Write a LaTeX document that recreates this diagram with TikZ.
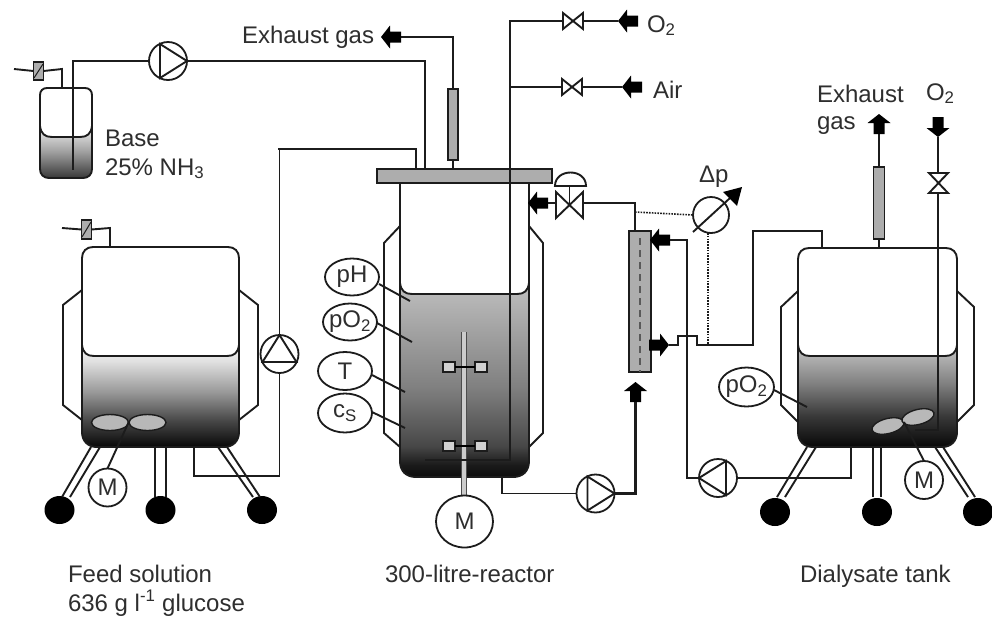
\documentclass[tikz,border=0pt]{standalone}
\usepackage{fontspec}
\setmainfont{Liberation Sans}
\usetikzlibrary{shapes.geometric}
\pgfdeclareverticalshading{basefill}{100bp}{color(0bp)=(black!78); color(25bp)=(black!78); color(50bp)=(black!38); color(75bp)=(black!5); color(100bp)=(black!5)}
\pgfdeclareverticalshading{feedfill}{100bp}{color(0bp)=(black!97); color(25bp)=(black!97); color(38bp)=(black!72); color(52bp)=(black!40); color(67bp)=(black!12); color(75bp)=(black!3); color(100bp)=(black!3)}
\pgfdeclareverticalshading{reactfill}{100bp}{color(0bp)=(black!95); color(25bp)=(black!95); color(28bp)=(black!90); color(33bp)=(black!72); color(48bp)=(black!50); color(75bp)=(black!25); color(100bp)=(black!25)}
\pgfdeclareverticalshading{dialfill}{100bp}{color(0bp)=(black!97); color(25bp)=(black!97); color(40bp)=(black!78); color(56bp)=(black!50); color(75bp)=(black!22); color(100bp)=(black!22)}
\definecolor{ink}{HTML}{1c1c1c}
\definecolor{txt}{HTML}{2e2e2e}
\tikzset{
 pipe/.style={draw=ink,line width=1.9pt,line join=miter},
 pumpc/.style={circle,draw=ink,line width=1.8pt,fill=white,minimum size=38pt,inner sep=0pt,outer sep=0pt},
 motor/.style={circle,draw=ink,line width=1.8pt,fill=white,minimum size=38pt,inner sep=0pt,outer sep=0pt},
 sensor/.style={ellipse,draw=ink,line width=1.8pt,fill=white,minimum width=54pt,minimum height=37pt,inner sep=0pt,outer sep=0pt},
 filter/.style={rectangle,draw=ink,line width=1.9pt,fill=black!32,inner sep=0pt,outer sep=0pt},
 blob/.style={ellipse,fill=black,minimum width=30pt,minimum height=28pt,inner sep=0pt,outer sep=0pt},
 paddle/.style={ellipse,draw=ink,line width=1.4pt,fill=black!28,inner sep=0pt,outer sep=0pt},
 blade/.style={rectangle,draw=ink,line width=1.9pt,fill=black!18,minimum width=12pt,minimum height=10pt,inner sep=0pt,outer sep=0pt},
 dotline/.style={draw=ink,line width=1.6pt,dash pattern=on 1.6pt off 1.2pt},
 lab/.style={text=txt,font=\fontsize{24}{28}\selectfont,inner sep=0pt,outer sep=0pt,anchor=base west},
 clab/.style={text=txt,font=\fontsize{24}{28}\selectfont,inner sep=0pt,outer sep=0pt},
}
\newcommand{\flowarrow}[3]{\fill[black,shift={(#1,#2)},rotate=#3] (0,0)--(9,11.5)--(9,5.5)--(20,5.5)--(20,-5.5)--(9,-5.5)--(9,-11.5)--cycle;}
\newcommand{\pumptri}[3]{\draw[pipe,shift={(#1,#2)},rotate=#3] (19,0)--(-8,17)--(-8,-17)--cycle;}
\newcommand{\valvetie}[3]{\draw[pipe,fill=white,shift={(#1,#2)},rotate=#3] (-10,-8)--(10,8)--(10,-8)--(-10,8)--cycle;}
% x1 x2 liquid-level bottom corner shading
\newcommand{\liquidbody}[6]{%
 \shade[shading=#6] ({#1},{#3-11}) .. controls ({#1+1},{#3-3}) and ({#1+5},{#3}) .. ({#1+12},{#3}) -- ({#2-12},{#3}) .. controls ({#2-5},{#3}) and ({#2-1},{#3-3}) .. ({#2},{#3-11}) -- ({#2},{#4-#5}) .. controls ({#2},{#4-#5*0.4}) and ({#2-#5*0.4},{#4}) .. ({#2-#5},{#4}) -- ({#1+#5},{#4}) .. controls ({#1+#5*0.4},{#4}) and ({#1},{#4-#5*0.4}) .. ({#1},{#4-#5}) -- cycle;
 \draw[pipe] ({#1},{#3-11}) .. controls ({#1+1},{#3-3}) and ({#1+5},{#3}) .. ({#1+12},{#3}) -- ({#2-12},{#3}) .. controls ({#2-5},{#3}) and ({#2-1},{#3-3}) .. ({#2},{#3-11});
}
% full vessel: x1 x2 top level bottom topcorner botcorner shading
\newcommand{\vessel}[8]{%
 \liquidbody{#1}{#2}{#4}{#5}{#7}{#8}
 \draw[pipe] ({#1},{#5-#7}) -- ({#1},{#3+#6}) .. controls ({#1},{#3+#6*0.4}) and ({#1+#6*0.4},{#3}) .. ({#1+#6},{#3}) -- ({#2-#6},{#3}) .. controls ({#2-#6*0.4},{#3}) and ({#2},{#3+#6*0.4}) .. ({#2},{#3+#6}) -- ({#2},{#5-#7}) .. controls ({#2},{#5-#7*0.4}) and ({#2-#7*0.4},{#5}) .. ({#2-#7},{#5}) -- ({#1+#7},{#5}) .. controls ({#1+#7*0.4},{#5}) and ({#1},{#5-#7*0.4}) .. ({#1},{#5-#7});
}
\begin{document}
\begin{tikzpicture}[x=1pt,y=-1pt]
\useasboundingbox[fill=white] (0,0) rectangle (992,619);

% ---------- Base tank
\vessel{40}{92}{88}{137}{178}{7}{9}{basefill}
\coordinate (bdip) at (73,170);
\coordinate (bvent) at (62,88);
\coordinate (bin) at (14,69);
\node[filter,minimum width=10pt,minimum height=18pt] (bf) at (38.5,71) {};
\draw[pipe,line width=1pt] (34,78)--(43,64);
\draw[pipe] (bin) -- (bf.west);
\draw[pipe] (bf.east) -- (62,69) -- (bvent);
\node[pumpc] (pb) at (168,61) {};
\pumptri{168}{61}{0}
\draw[pipe,line width=2.1pt] (bdip) |- (pb.west);
\node[lab] (tbase) at (105,146) {Base};
\node[lab] (tnh) at (105,175) {25\% NH\textsubscript{3}};

% ---------- Feed tank
\node[blob] (fb1) at (59.5,510) {};
\node[blob] (fb2) at (160.5,510) {};
\node[blob] (fb3) at (262,510) {};
\draw[pipe] (91,447)--(62,497) (100,447)--(70,497);
\draw[pipe] (155,447)--(155,497) (166,447)--(166,497);
\draw[pipe] (218,447)--(253,497) (227,447)--(260,497);
\draw[pipe] (82,290)--(63,305)--(63,405)--(82,420);
\draw[pipe] (239,290)--(258,305)--(258,405)--(239,420);
\vessel{82}{239}{247}{356}{447}{11}{15}{feedfill}
\node[filter,minimum width=10pt,minimum height=19pt] (ff) at (86.5,229.5) {};
\draw[pipe,line width=1pt] (82,237)--(91,222);
\coordinate (fin) at (62,228);
\coordinate (fvent) at (110,247);
\draw[pipe] (fin) -- (ff.west);
\draw[pipe] (ff.east) -- (110,228) -- (fvent);
\node[paddle,minimum width=37pt,minimum height=16pt] (fp1) at (110,422.5) {};
\node[paddle,minimum width=37pt,minimum height=16pt] (fp2) at (147.5,422.5) {};
\node[motor] (fm) at (107.5,487.5) {};
\node[clab] at (fm) {M};
\draw[pipe] (fp1.east) -- (fm.north);
\node[pumpc] (pf) at (279.5,354) {};
\pumptri{279.5}{354}{90}
\coordinate (fout) at (194,447);
\coordinate (lidb) at (416,169);
\draw[pipe] (fout) |- (279.5,476) -- (pf.south);
\draw[pipe] (pf.north) |- (278,149) -- (416,149) -- (lidb);
\node[lab] (tf1) at (68,582) {Feed solution};
\node[lab] (tf2) at (68,611) {636 g l\textsuperscript{-1} glucose};

% ---------- Reactor
\draw[pipe] (400,226)--(384,243)--(384,433)--(400,447);
\draw[pipe] (529,226)--(543,243)--(543,433)--(529,447);
\liquidbody{400}{529}{294}{477}{16}{reactfill}
\draw[pipe] (400,183) -- (400,461) .. controls (400,471) and (406,477) .. (416,477) -- (513,477) .. controls (523,477) and (529,471) .. (529,461) -- (529,183);
\draw[draw=black!70,line width=5.6pt] (464,332)--(464,496);
\draw[draw=black!20,line width=3.2pt] (464,332)--(464,496);
\node[blade] (b1) at (449,367) {};
\node[blade] (b2) at (481,367) {};
\node[blade] (b3) at (449,446) {};
\node[blade] (b4) at (481,446) {};
\draw[pipe,line width=2.4pt,draw=black] (b1)--(b2);
\draw[pipe,line width=2.4pt,draw=black] (b3)--(b4);
\node[ellipse,draw=ink,line width=1.8pt,fill=white,minimum width=57pt,minimum height=52pt,inner sep=0pt] (rm) at (464.5,521.5) {};
\node[clab] at (rm) {M};
\node[rectangle,draw=ink,line width=1.9pt,fill=black!32,minimum width=175pt,minimum height=14pt,inner sep=0pt] (lid) at (464.5,176) {};

% sensors
\node[sensor] (sph) at (352,277) {};
\node[sensor] (spo) at (350,322) {};
\node[sensor,minimum height=38pt] (st) at (345,371) {};
\node[sensor,minimum height=39pt] (scs) at (345,413) {};
\node[clab] at (sph) {pH};
\node[clab] at (spo) {pO\textsubscript{2}};
\node[clab] at (st) {T};
\node[clab] at (scs) {c\textsubscript{S}};
\coordinate (ph2) at (410,301);
\coordinate (po2) at (412,342);
\coordinate (t2) at (405,392);
\coordinate (cs2) at (405,428);
\draw[pipe] (sph.east) ++(0,7) -- (ph2);
\draw[pipe] (spo.east) ++(0,1) -- (po2);
\draw[pipe] (st.east) ++(0,4) -- (t2);
\draw[pipe] (scs.east) ++(0,-1) -- (cs2);

% base line to lid, exhaust
\coordinate (lida) at (425,169);
\draw[pipe] (pb.east) -| (lida);
\node[filter,minimum width=10pt,minimum height=71pt] (f1) at (453,124.5) {};
\coordinate (eg1) at (401,37);
\draw[pipe] (f1.south) -- (453,169);
\draw[pipe] (eg1) -| (f1.north);
\flowarrow{381}{37}{0}
\node[lab] (teg) at (242,43) {Exhaust gas};

% gas feed
\coordinate (ga) at (510,21);
\coordinate (gb) at (510,87);
\coordinate (gend) at (425,460);
\draw[pipe,line width=2.2pt] (gend) -- (510,460) -- (ga) -- (563,21);
\draw[pipe] (gb) -- (562,87);
\valvetie{573}{21}{0}
\valvetie{572}{87}{0}
\coordinate (o2a) at (618,21);
\coordinate (aira) at (622,87);
\draw[pipe] (583,21) -- (o2a);
\draw[pipe] (582,87) -- (aira);
\flowarrow{618}{21}{0}
\flowarrow{622}{87}{0}
\node[lab] (to2) at (647,32) {O\textsubscript{2}};
\node[lab] (tair) at (653,98) {Air};

% pressure control valve
\flowarrow{528}{203}{0}
\draw[pipe] (548,203)--(556,203);
\draw[pipe,fill=white] (556,192)--(583,218)--(583,192)--(556,218)--cycle;
\draw[pipe] (569.5,205)--(569.5,186);
\draw[pipe,fill=white] (555,186) .. controls (555,168) and (586,168) .. (586,186) -- cycle;

% dialysis module
\node[filter,minimum width=22pt,minimum height=141pt] (mod) at (640,301.5) {};
\draw[draw=black!65,line width=1.2pt,dash pattern=on 7pt off 5pt] (640,238)--(640,372);
\draw[pipe] (583,203) -| (635,231);
\flowarrow{635.5}{382}{-90}
\node[pumpc] (pr) at (595.5,493.5) {};
\pumptri{595.5}{493.5}{0}
\coordinate (rout) at (502,477);
\draw[pipe] (rout) |- (pr.west);
\draw[pipe,line width=2.2pt] (pr.east) -| (635.5,402);

% dialysate side
\draw[pipe] (807,447)--(777,497) (816,447)--(785,497);
\draw[pipe] (873,447)--(873,497) (881,447)--(881,497);
\draw[pipe] (935,447)--(968,497) (943,447)--(975,497);
\node[blob] (db1) at (775,512) {};
\node[blob] (db2) at (877,512) {};
\node[blob] (db3) at (978,512) {};
\draw[pipe] (798,291)--(781,307)--(781,405)--(798,422);
\draw[pipe] (957,291)--(974,307)--(974,405)--(957,422);
\vessel{798}{957}{248}{356}{447}{11}{15}{dialfill}
\node[paddle,minimum width=33pt,minimum height=15pt,rotate=14] (dp1) at (888,426) {};
\node[paddle,minimum width=33pt,minimum height=15pt,rotate=14] (dp2) at (918,417) {};
\node[motor] (dm) at (924,480) {};
\node[clab] at (dm) {M};
\coordinate (dphub) at (904,422);
\draw[pipe] (dphub) -- (dm.north);
\node[sensor,minimum height=39pt,minimum width=55pt] (dpo) at (746.5,387) {};
\node[clab] at (dpo) {pO\textsubscript{2}};
\coordinate (dpo2) at (807,407);
\draw[pipe] (dpo.east) ++(0,3) -- (dpo2);

% dialysate loop
\node[pumpc] (pd) at (718,478) {};
\pumptri{718}{478}{180}
\coordinate (dout) at (851,447);
\draw[pipe] (dout) |- (pd.east);
\flowarrow{650}{240}{0}
\coordinate (mrt) at (670,240);
\draw[pipe] (mrt) -| (687,478) -- (pd.west);
% return with bridge
\flowarrow{669}{345}{180}
\coordinate (tkret) at (822,248);
\draw[pipe] (669,345) -- (678,345) -- (678,336) -- (697,336) -- (697,345) -- (753,345) -- (753,231) -- (822,231) -- (tkret);

% delta p
\node[circle,draw=ink,line width=1.8pt,fill=white,minimum size=36pt,inner sep=0pt,outer sep=0pt] (dpc) at (711,215) {};
\coordinate (dptip) at (742,187);
\coordinate (dpstart) at (693,232);
\draw[pipe] (dpstart) -- (730,198);
\fill[black] (dptip) -- (723,192) -- (737,206) -- cycle;
\draw[dotline] (635,212) -- (dpc.west);
\draw[dotline] (708,233) -- (708,345);
\node[lab] (tdp) at (699,182) {Δp};

% exhaust and O2 on dialysate tank
\node[filter,minimum width=11pt,minimum height=72pt] (f2) at (879,203) {};
\draw[pipe] (f2.south) -- (879,248);
\draw[pipe] (f2.north) -- (879,133);
\flowarrow{879}{114}{-90}
\node[lab] (tex) at (817,102) {Exhaust};
\node[lab] (tgas) at (817,129) {gas};
\flowarrow{938}{137}{90}
\coordinate (dgas) at (915,430);
\draw[pipe] (938,137) -- (938,173);
\draw[pipe,fill=white] (929,173) -- (948,173) -- (929,193) -- (948,193) -- cycle;
\draw[pipe] (938,193) -- (938,430) -- (dgas);
\node[lab] (tox) at (926,100) {O\textsubscript{2}};

\node[lab] (tr) at (385,582) {300-litre-reactor};
\node[lab] (td) at (800,582) {Dialysate tank};
\end{tikzpicture}
\end{document}
